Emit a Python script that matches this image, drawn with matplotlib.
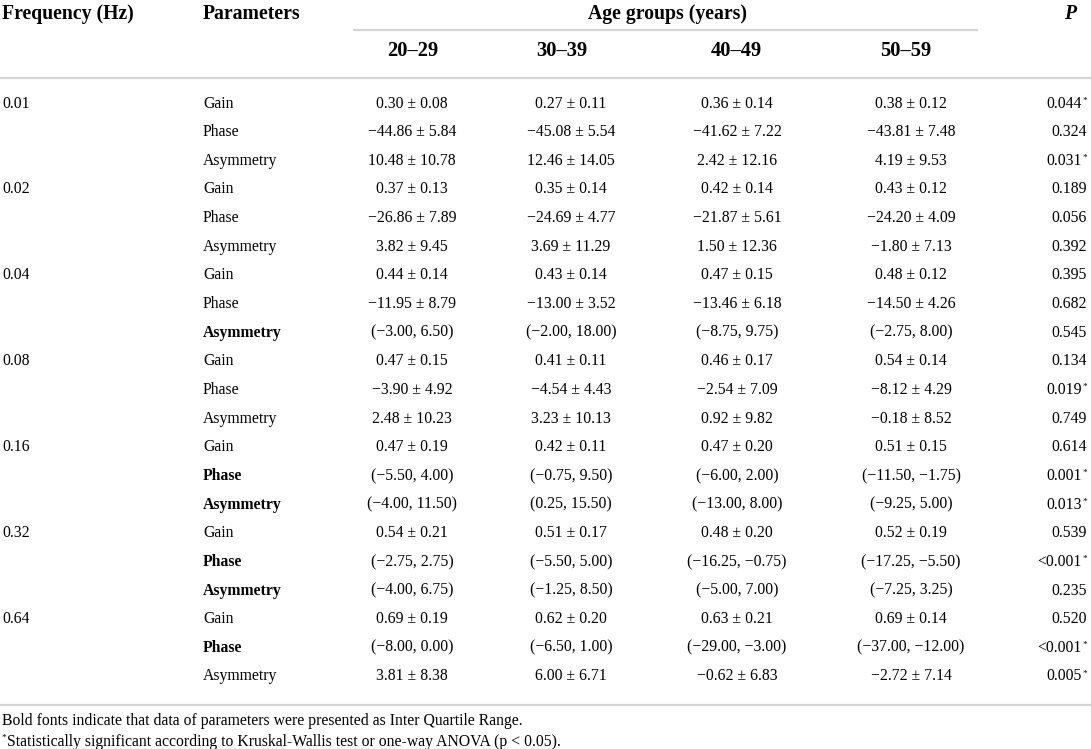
import matplotlib
matplotlib.use("Agg")
import matplotlib.pyplot as plt

FONT = ["Liberation Serif", "DejaVu Serif"]

frequencies = ["0.01", "0.02", "0.04", "0.08", "0.16", "0.32", "0.64"]
parameters = ["Gain", "Phase", "Asymmetry"]
age_groups = ["20–29", "30–39", "40–49", "50–59"]

# per row (frequency x parameter) values
g20 = ["0.30 ± 0.08", "−44.86 ± 5.84", "10.48 ± 10.78",
       "0.37 ± 0.13", "−26.86 ± 7.89", "3.82 ± 9.45",
       "0.44 ± 0.14", "−11.95 ± 8.79", "(−3.00, 6.50)",
       "0.47 ± 0.15", "−3.90 ± 4.92", "2.48 ± 10.23",
       "0.47 ± 0.19", "(−5.50, 4.00)", "(−4.00, 11.50)",
       "0.54 ± 0.21", "(−2.75, 2.75)", "(−4.00, 6.75)",
       "0.69 ± 0.19", "(−8.00, 0.00)", "3.81 ± 8.38"]
g30 = ["0.27 ± 0.11", "−45.08 ± 5.54", "12.46 ± 14.05",
       "0.35 ± 0.14", "−24.69 ± 4.77", "3.69 ± 11.29",
       "0.43 ± 0.14", "−13.00 ± 3.52", "(−2.00, 18.00)",
       "0.41 ± 0.11", "−4.54 ± 4.43", "3.23 ± 10.13",
       "0.42 ± 0.11", "(−0.75, 9.50)", "(0.25, 15.50)",
       "0.51 ± 0.17", "(−5.50, 5.00)", "(−1.25, 8.50)",
       "0.62 ± 0.20", "(−6.50, 1.00)", "6.00 ± 6.71"]
g40 = ["0.36 ± 0.14", "−41.62 ± 7.22", "2.42 ± 12.16",
       "0.42 ± 0.14", "−21.87 ± 5.61", "1.50 ± 12.36",
       "0.47 ± 0.15", "−13.46 ± 6.18", "(−8.75, 9.75)",
       "0.46 ± 0.17", "−2.54 ± 7.09", "0.92 ± 9.82",
       "0.47 ± 0.20", "(−6.00, 2.00)", "(−13.00, 8.00)",
       "0.48 ± 0.20", "(−16.25, −0.75)", "(−5.00, 7.00)",
       "0.63 ± 0.21", "(−29.00, −3.00)", "−0.62 ± 6.83"]
g50 = ["0.38 ± 0.12", "−43.81 ± 7.48", "4.19 ± 9.53",
       "0.43 ± 0.12", "−24.20 ± 4.09", "−1.80 ± 7.13",
       "0.48 ± 0.12", "−14.50 ± 4.26", "(−2.75, 8.00)",
       "0.54 ± 0.14", "−8.12 ± 4.29", "−0.18 ± 8.52",
       "0.51 ± 0.15", "(−11.50, −1.75)", "(−9.25, 5.00)",
       "0.52 ± 0.19", "(−17.25, −5.50)", "(−7.25, 3.25)",
       "0.69 ± 0.14", "(−37.00, −12.00)", "−2.72 ± 7.14"]
p_values = ["0.044", "0.324", "0.031",
            "0.189", "0.056", "0.392",
            "0.395", "0.682", "0.545",
            "0.134", "0.019", "0.749",
            "0.614", "0.001", "0.013",
            "0.539", "<0.001", "0.235",
            "0.520", "<0.001", "0.005"]
significant = [1, 0, 1,
               0, 0, 0,
               0, 0, 0,
               0, 1, 0,
               0, 1, 1,
               0, 1, 0,
               0, 1, 1]
iqr_bold = [0, 0, 0,
            0, 0, 0,
            0, 0, 1,
            0, 0, 0,
            0, 1, 1,
            0, 1, 1,
            0, 1, 0]

footnote1 = "Bold fonts indicate that data of parameters were presented as Inter Quartile Range."
footnote2 = "Statistically significant according to Kruskal-Wallis test or one-way ANOVA (p < 0.05)."

W, H = 1091, 749
fig = plt.figure(figsize=(W / 100, H / 100), dpi=100)
ax = fig.add_axes([0, 0, 1, 1])
ax.set_xlim(0, W)
ax.set_ylim(H, 0)
ax.axis("off")

HS = 14.2   # header size
SS = 14.8   # sub-header size
DS = 11.3   # data size
FS = 11.3   # footnote size
LC = "#d3d3d3"

# header
ax.text(2, 14, "Frequency (Hz)", fontsize=HS, fontweight="bold", family=FONT, va="center", ha="left")
ax.text(203, 14, "Parameters", fontsize=HS, fontweight="bold", family=FONT, va="center", ha="left")
ax.text(667, 14, "Age groups (years)", fontsize=HS, fontweight="bold", family=FONT, va="center", ha="center")
ax.text(1076, 14, "P", fontsize=HS, fontweight="bold", fontstyle="italic", family=FONT, va="center", ha="right")
head_x = [413, 562, 736, 906]
col_x = [412, 571, 737, 911]
for hx, g in zip(head_x, age_groups):
    ax.text(hx, 51, g, fontsize=SS, fontweight="bold", family=FONT, va="center", ha="center")

ax.plot([353, 978], [30, 30], color=LC, lw=1.6, solid_capstyle="butt")
ax.plot([0, W], [78, 78], color=LC, lw=1.6, solid_capstyle="butt")
ax.plot([0, W], [705, 705], color=LC, lw=1.6, solid_capstyle="butt")

y0, dy = 103.5, 28.65
columns = [g20, g30, g40, g50]
n = len(p_values)
for i in range(n):
    y = y0 + i * dy
    if i % 3 == 0:
        ax.text(2, y, frequencies[i // 3], fontsize=DS, family=FONT, va="center", ha="left")
    ax.text(203, y, parameters[i % 3], fontsize=DS, family=FONT, va="center", ha="left",
            fontweight="bold" if iqr_bold[i] else "normal")
    for cx, col in zip(col_x, columns):
        ax.text(cx, y, col[i], fontsize=DS, family=FONT, va="center", ha="center")
    xr = 1087
    if significant[i]:
        ax.text(xr, y - 3, "*", fontsize=DS * 0.6, family=FONT, va="center", ha="right")
        xr -= 5
    ax.text(xr, y, p_values[i], fontsize=DS, family=FONT, va="center", ha="right")

ax.text(2, 721, footnote1, fontsize=FS, family=FONT, va="center", ha="left")
ax.text(2, 738, "*", fontsize=FS * 0.6, family=FONT, va="center", ha="left")
ax.text(7, 742, footnote2, fontsize=FS, family=FONT, va="center", ha="left")

fig.savefig("out.png", dpi=100)
